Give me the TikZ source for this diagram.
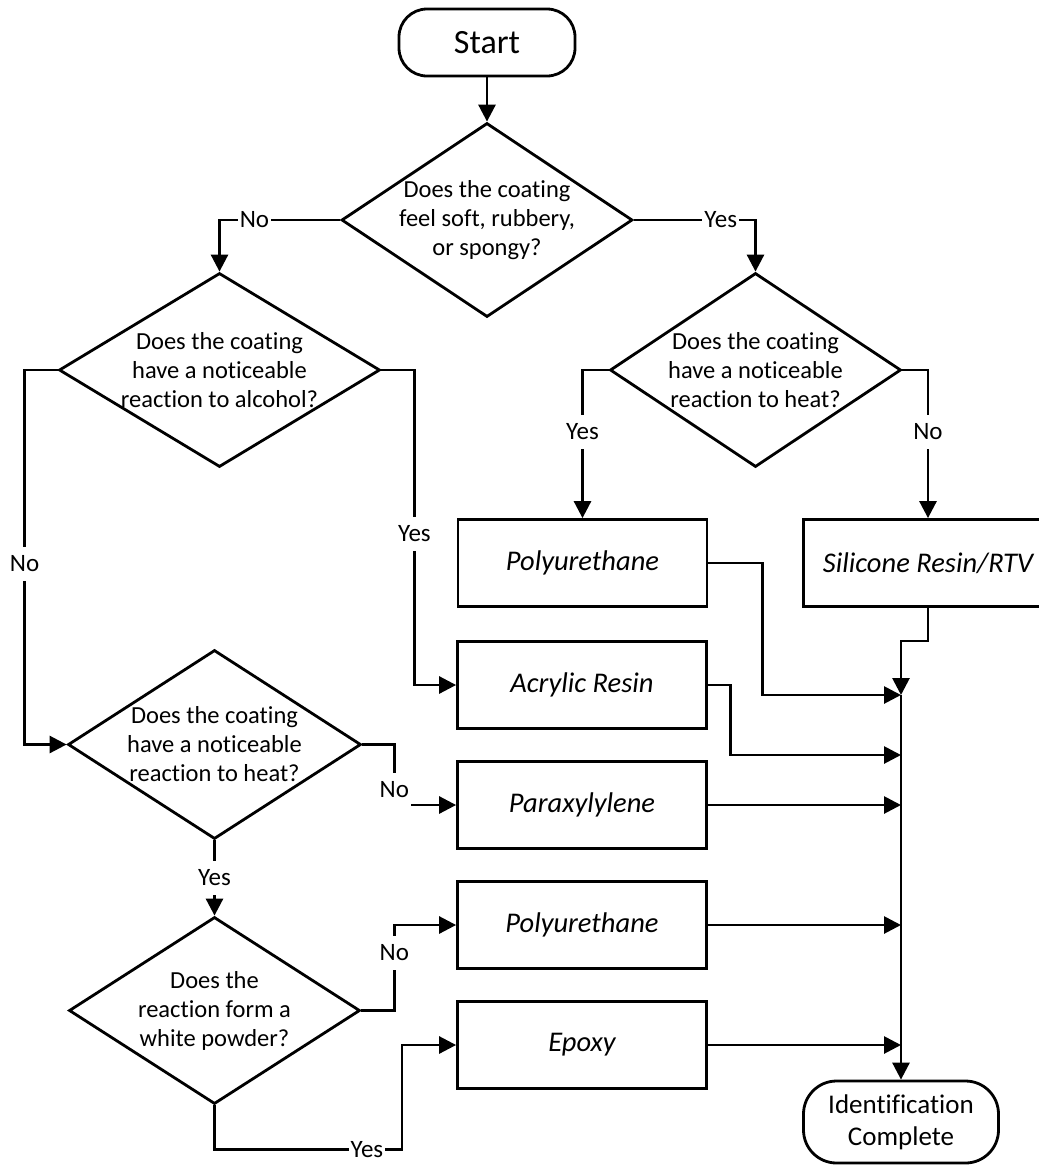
\documentclass[tikz,border=0pt]{standalone}
\usepackage{fontspec}
\setmainfont{Carlito}[Ligatures={NoCommon}]
\usetikzlibrary{shapes.geometric,arrows.meta,calc}
\begin{document}
\begin{tikzpicture}[x=1pt,y=-1pt,
  line width=2.8pt, line join=miter,
  every node/.style={font=\fontsize{24}{28.5}\selectfont},
  term/.style={draw, rectangle, rounded corners=28pt, minimum width=176pt, minimum height=67pt, inner sep=0pt},
  dec/.style={draw, diamond, minimum width=291pt, minimum height=194pt, inner sep=0pt},
  qtext/.style={align=center, inner sep=0pt, font=\fontsize{24.5}{29}\selectfont},
  res/.style={draw, rectangle, minimum width=249pt, minimum height=87pt, inner sep=0pt, font=\fontsize{28.5}{34}\selectfont\itshape},
  lbl/.style={fill=white, inner xsep=2pt, inner ysep=0pt, minimum height=34pt, font=\fontsize{25}{30}\selectfont},
  arr/.style={-{Triangle[length=17pt,width=17pt]}}
]
\useasboundingbox (0,0) rectangle (1039,1176);

% nodes
\node[term, font=\fontsize{34}{40}\selectfont] (start) at (487,42.5) {Start};
\node[dec, label={[qtext]center:{Does the coating\\feel soft, rubbery,\\or spongy?}}] (d1) at (487,220) {};
\node[dec, minimum width=321pt, label={[qtext]center:{Does the coating\\have a noticeable\\reaction to alcohol?}}] (d2) at (219.5,370) {};
\node[dec, label={[qtext]center:{Does the coating\\have a noticeable\\reaction to heat?}}] (d3) at (755.5,370) {};
\node[dec, minimum width=293pt, minimum height=189pt, label={[qtext]center:{Does the coating\\have a noticeable\\reaction to heat?}}] (d4) at (214.5,744.5) {};
\node[dec, minimum height=187pt, label={[qtext]center:{Does the\\reaction form a\\white powder?}}] (d5) at (214.5,1010.5) {};

\node[res] (poly1) at (582.5,563) {Polyurethane};
\node[res] (sil) at (928,563) {Silicone Resin/RTV};
\node[res] (acr) at (582,685) {Acrylic Resin};
\node[res] (para) at (582,805) {Paraxylylene};
\node[res] (poly2) at (582,925) {Polyurethane};
\node[res] (epoxy) at (582,1045) {Epoxy};
\node[term, rounded corners=33pt, minimum width=195pt, minimum height=82pt, align=center, font=\fontsize{27}{32}\selectfont] (endn) at (901,1122) {Identification\\Complete};

% bus junctions
\coordinate (j1) at (901,695);
\coordinate (j2) at (901,755);
\coordinate (j3) at (901,805);
\coordinate (j4) at (901,925);
\coordinate (j5) at (901,1045);

% connectors
\draw[arr] (start) -- (d1);
\draw[arr] (d1.west) -| node[lbl,pos=0.355]{No} (d2.north);
\draw[arr] (d1.east) -| node[lbl,pos=0.357]{Yes} (d3.north);
\draw[arr] (d3.west) -| node[lbl,pos=0.708]{Yes} (poly1.north);
\draw[arr] (d3.east) -| node[lbl,pos=0.708]{No} (sil.north);
\draw[arr] (d2.east) -- ++(33,0) |- node[lbl,pos=0.26]{Yes} (acr.west);
\draw[arr] (d2.west) -- ++(-33,0) |- node[lbl,pos=0.259]{No} (d4.west);
\draw[arr] (d4.south) -- node[lbl]{Yes} (d5.north);
\draw[arr] (d4.east) -- ++(32,0) |- node[lbl,pos=0.375]{No} (para.west);
\draw[arr] (d5.east) -- ++(33,0) |- node[lbl,pos=0.337]{No} (poly2.west);
\draw[arr] (d5.south) -- ++(0,44) -- node[lbl,pos=0.813]{Yes} ++(187.5,0) |- (epoxy.west);

\draw[arr] (sil.south) -- ++(0,33) -| (j1);
\draw[arr] (poly1.east) -- ++(54,0) |- (j1);
\draw[arr] (acr.east) -- ++(22.5,0) |- (j2);
\draw[arr] (para.east) -- (j3);
\draw[arr] (poly2.east) -- (j4);
\draw[arr] (epoxy.east) -- (j5);
\draw[arr] (j1) -- (endn.north);
\end{tikzpicture}
\end{document}
